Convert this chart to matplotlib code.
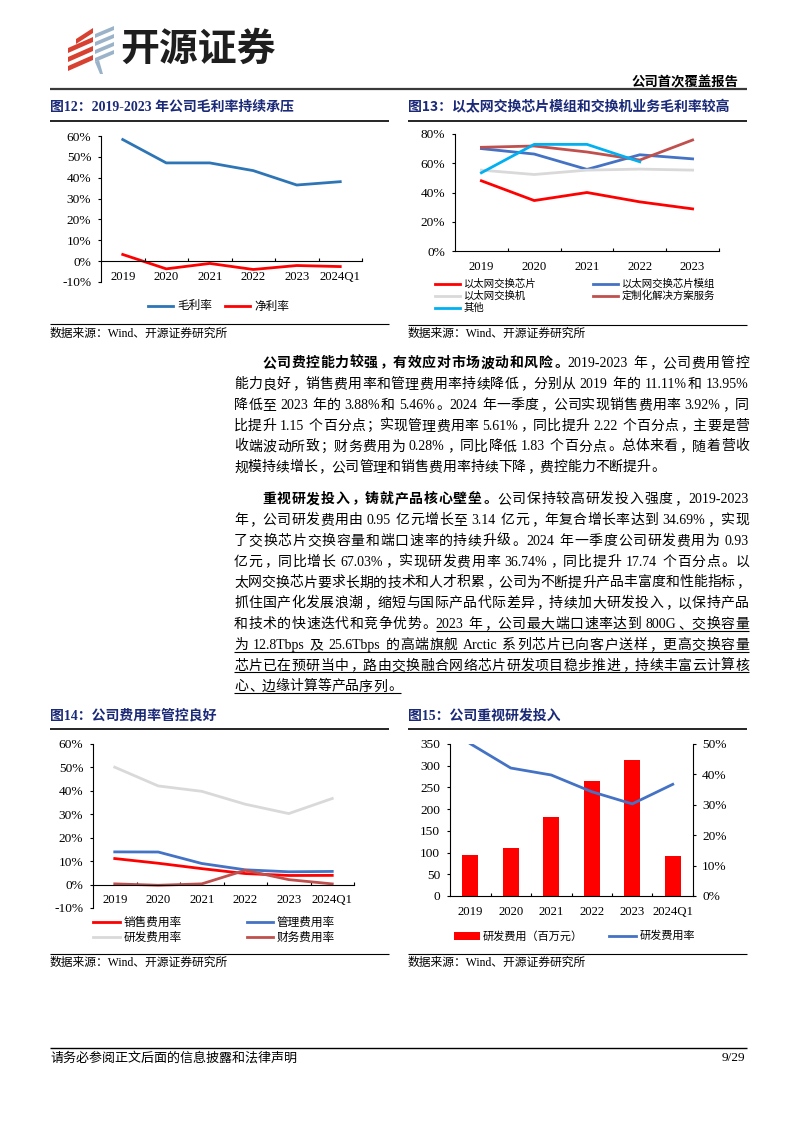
import re
import numpy as np
import matplotlib
matplotlib.use('Agg')
import matplotlib.pyplot as plt
from matplotlib.lines import Line2D
from matplotlib.patches import Rectangle, Polygon
from matplotlib.ticker import FuncFormatter

# ---- data ----
years6 = ['2019', '2020', '2021', '2022', '2023', '2024Q1']
years5 = ['2019', '2020', '2021', '2022', '2023']

gross_margin = [58.3, 47.1, 47.1, 43.4, 36.5, 38.1]
net_margin = [3.2, -3.7, -1.1, -4.0, -2.1, -2.6]

chip_margin = [48.0, 34.5, 40.0, 33.6, 28.8]
module_margin = [70.0, 66.3, 55.8, 65.8, 63.0]
switch_margin = [55.3, 52.3, 55.3, 56.0, 55.3]
custom_margin = [70.9, 71.8, 67.7, 62.2, 75.9]
other_margin = [53.5, 72.9, 72.9, 61.0, np.nan]

sales_rate = [11.11, 9.1, 6.8, 4.7, 3.88, 3.92]
admin_rate = [13.95, 13.9, 9.0, 6.3, 5.46, 5.61]
rd_rate = [50.1, 42.1, 39.8, 34.3, 30.3, 36.74]
fin_rate = [0.3, -0.3, 0.3, 6.1, 2.11, 0.28]

rd_expense = [95, 111, 181, 265, 314, 93]

W, H = 794, 1123
SERIF = ['Liberation Serif', 'Noto Sans CJK SC']
CJK = ['Noto Sans CJK SC', 'DejaVu Sans']
NAVY = '#1B2A78'
RED = '#FF0000'
BLUE = '#4472C4'
LBLUE = '#2E75B6'
GREY = '#D9D9D9'
BRICK = '#C0504D'
CYAN = '#00B0F0'

plt.rcParams['font.family'] = SERIF
plt.rcParams['axes.linewidth'] = 0.8

fig = plt.figure(figsize=(W / 100, H / 100), dpi=100)


def fx(x):
    return x / W


def fy(y):
    return 1 - y / H


def box(l, t, r, b):
    return [l / W, 1 - b / H, (r - l) / W, (b - t) / H]


def hline(x1, x2, y, lw=0.8, color='black'):
    fig.add_artist(Line2D([fx(x1), fx(x2)], [fy(y), fy(y)], color=color, lw=lw,
                          solid_capstyle='butt'))


def legend_key(x1, x2, y, line, label, fs):
    fig.add_artist(Line2D([fx(x1), fx(x2)], [fy(y), fy(y)], color=line.get_color(),
                          lw=line.get_linewidth()))
    fig.text(fx(x2 + 4), fy(y), label, fontsize=fs, family=CJK, va='center')


pct = FuncFormatter(lambda v, p: f'{v:.0f}%')


def style_axes(ax, labels, ymin, ymax, ystep, fmt=None):
    n = len(labels)
    ax.set_xlim(-0.5, n - 0.5)
    ax.set_ylim(ymin, ymax)
    ax.set_xticks(range(n))
    ax.set_xticklabels(labels)
    ax.set_xticks(np.arange(0.5, n, 1), minor=True)
    ax.tick_params(axis='x', which='major', length=0, pad=7, labelsize=9.2)
    ax.tick_params(axis='x', which='minor', direction='in', length=2.5, width=0.8)
    ax.set_yticks(np.arange(ymin, ymax + ystep / 2, ystep))
    if fmt is not None:
        ax.yaxis.set_major_formatter(fmt)
    ax.tick_params(axis='y', direction='out', length=2.5, width=0.8, pad=4.5, labelsize=9.6)
    ax.spines['top'].set_visible(False)
    ax.spines['right'].set_visible(False)
    ax.spines['bottom'].set_position(('data', 0))
    ax.patch.set_alpha(0)


# ---- header ----
red_logo = '#D8412F'
blue_logo = '#9BB3C9'
for yb in [44, 53, 62, 71]:
    x_left = 68 if yb > 44 else 76
    fig.add_artist(Polygon([(fx(x_left), fy(yb)), (fx(93), fy(yb - 11)), (fx(93), fy(yb - 16)),
                            (fx(x_left), fy(yb - 5))], closed=True, color=red_logo, lw=0))
for yb in [38, 46, 54, 62]:
    fig.add_artist(Polygon([(fx(95), fy(yb)), (fx(114), fy(yb - 8)), (fx(114), fy(yb - 12)),
                            (fx(95), fy(yb - 4))], closed=True, color=blue_logo, lw=0))
fig.add_artist(Polygon([(fx(95), fy(62)), (fx(100), fy(74)), (fx(103), fy(74)), (fx(99), fy(60))],
                       closed=True, color=blue_logo, lw=0))
fig.text(fx(120), fy(49), '开源证券', fontsize=28, family=CJK, fontweight='heavy',
         color='#1E1E1E', va='center', ha='left')
fig.text(fx(738), fy(82), '公司首次覆盖报告', fontsize=9.6, family=CJK, fontweight='bold',
         ha='right', va='center')
hline(50, 747, 88.5, lw=1.6, color='#3A3A3A')

# ---- figure titles ----
fig.text(fx(50), fy(107), '图12：2019-2023 年公司毛利率持续承压', fontsize=10, fontweight='bold',
         color=NAVY, va='center')
fig.text(fx(408), fy(107), '图13：以太网交换芯片模组和交换机业务毛利率较高', fontsize=10,
         fontweight='bold', color=NAVY, va='center', family=CJK)
hline(50, 389, 121, lw=1.2)
hline(408, 747, 121, lw=1.2)
fig.text(fx(50), fy(716), '图14：公司费用率管控良好', fontsize=10, fontweight='bold',
         color=NAVY, va='center')
fig.text(fx(408), fy(716), '图15：公司重视研发投入', fontsize=10, fontweight='bold',
         color=NAVY, va='center')
hline(50, 389, 728.5, lw=1.2)
hline(408, 747, 728.5, lw=1.2)

# ---- chart 12 ----
ax12 = fig.add_axes(box(101, 136, 362, 282))
l_gross, = ax12.plot(range(6), gross_margin, color=LBLUE, lw=2)
l_net, = ax12.plot(range(6), net_margin, color=RED, lw=2)
style_axes(ax12, years6, -10, 60, 10, pct)
legend_key(148, 173, 306, l_gross, '毛利率', 8.4)
legend_key(225, 250, 306, l_net, '净利率', 8.4)
hline(50, 389, 324)
fig.text(fx(50), fy(334), '数据来源：Wind、开源证券研究所', fontsize=8.5, va='center')

# ---- chart 13 ----
ax13 = fig.add_axes(box(455, 134, 719, 251))
c13 = []
for vals, col in [(chip_margin, RED), (module_margin, BLUE), (switch_margin, GREY),
                  (custom_margin, BRICK), (other_margin, CYAN)]:
    ln, = ax13.plot(range(5), vals, color=col, lw=2)
    c13.append(ln)
style_axes(ax13, years5, 0, 80, 20, pct)
legend_key(435, 460, 284, c13[0], '以太网交换芯片', 7.5)
legend_key(593, 618, 284, c13[1], '以太网交换芯片模组', 7.5)
legend_key(435, 460, 296, c13[2], '以太网交换机', 7.5)
legend_key(593, 618, 296, c13[3], '定制化解决方案服务', 7.5)
legend_key(435, 460, 308, c13[4], '其他', 7.5)
hline(408, 747, 325)
fig.text(fx(408), fy(334), '数据来源：Wind、开源证券研究所', fontsize=8.5, va='center')

# ---- chart 14 ----
ax14 = fig.add_axes(box(93, 744, 354, 908))
c14 = []
for vals, col in [(sales_rate, RED), (admin_rate, BLUE), (rd_rate, GREY), (fin_rate, BRICK)]:
    ln, = ax14.plot(range(6), vals, color=col, lw=2)
    c14.append(ln)
style_axes(ax14, years6, -10, 60, 10, pct)
legend_key(93, 120, 922, c14[0], '销售费用率', 8.4)
legend_key(247, 273, 922, c14[1], '管理费用率', 8.4)
legend_key(93, 120, 937, c14[2], '研发费用率', 8.4)
legend_key(247, 273, 937, c14[3], '财务费用率', 8.4)
hline(50, 389, 954)
fig.text(fx(50), fy(963), '数据来源：Wind、开源证券研究所', fontsize=8.5, va='center')

# ---- chart 15 ----
ax15 = fig.add_axes(box(450, 744, 693, 896))
bars = ax15.bar(range(6), rd_expense, width=0.4, color=RED)
style_axes(ax15, years6, 0, 350, 50)
ax15b = ax15.twinx()
l_rd, = ax15b.plot(range(6), rd_rate, color=BLUE, lw=2)
ax15b.set_ylim(0, 50)
ax15b.set_yticks(np.arange(0, 51, 10))
ax15b.yaxis.set_major_formatter(pct)
ax15b.tick_params(axis='y', direction='out', length=2.5, width=0.8, pad=4, labelsize=9.6)
for s in ['top', 'left', 'bottom']:
    ax15b.spines[s].set_visible(False)
fig.add_artist(Rectangle((fx(454), fy(939.5)), fx(480) - fx(454), fy(932) - fy(939.5),
                         color=RED, lw=0))
fig.text(fx(483), fy(936), '研发费用（百万元）', fontsize=8, family=CJK, va='center')
legend_key(609, 636, 936, l_rd, '研发费用率', 8)
hline(408, 747, 954)
fig.text(fx(408), fy(963), '数据来源：Wind、开源证券研究所', fontsize=8.5, va='center')

# ---- body text (justified) ----
para1 = [
    [('公司费控能力较强，有效应对市场波动和风险。', True, False), ('2019-2023 年，公司费用管控', False, False)],
    [('能力良好，销售费用率和管理费用率持续降低，分别从 2019 年的 11.11%和 13.95%', False, False)],
    [('降低至 2023 年的 3.88%和 5.46%。2024 年一季度，公司实现销售费用率 3.92%，同', False, False)],
    [('比提升 1.15 个百分点；实现管理费用率 5.61%，同比提升 2.22 个百分点，主要是营', False, False)],
    [('收端波动所致；财务费用为 0.28%，同比降低 1.83 个百分点。总体来看，随着营收', False, False)],
    [('规模持续增长，公司管理和销售费用率持续下降，费控能力不断提升。', False, False)],
]
para2 = [
    [('重视研发投入，铸就产品核心壁垒。', True, False), ('公司保持较高研发投入强度，2019-2023', False, False)],
    [('年，公司研发费用由 0.95 亿元增长至 3.14 亿元，年复合增长率达到 34.69%，实现', False, False)],
    [('了交换芯片交换容量和端口速率的持续升级。2024 年一季度公司研发费用为 0.93', False, False)],
    [('亿元，同比增长 67.03%，实现研发费用率 36.74%，同比提升 17.74 个百分点。以', False, False)],
    [('太网交换芯片要求长期的技术和人才积累，公司为不断提升产品丰富度和性能指标，', False, False)],
    [('抓住国产化发展浪潮，缩短与国际产品代际差异，持续加大研发投入，以保持产品', False, False)],
    [('和技术的快速迭代和竞争优势。', False, False), ('2023 年，公司最大端口速率达到 800G、交换容量', False, True)],
    [('为 12.8Tbps 及 25.6Tbps 的高端旗舰 Arctic 系列芯片已向客户送样，更高交换容量', False, True)],
    [('芯片已在预研当中，路由交换融合网络芯片研发项目稳步推进，持续丰富云计算核', False, True)],
    [('心、边缘计算等产品序列。', False, True)],
]

BODY_FS = 10
EM = BODY_FS * 100 / 72
renderer = fig.canvas.get_renderer()
LEFT_PUNCT = set('，。、；：）')
X0, X1, INDENT = 234, 749, 262


def is_ascii(t):
    return all(ord(c) < 128 for c in t)


def draw_line(segments, x0, x1, y, justify=True):
    toks = []
    for text, bold, under in segments:
        for t in re.findall(r'[!-~]+| |.', text):
            toks.append((t, bold, under))
    widths = []
    for t, bold, under in toks:
        if t == ' ':
            widths.append(EM * 0.25)
        elif is_ascii(t):
            tmp = fig.text(0, 0, t, fontsize=BODY_FS, family='Liberation Serif',
                           fontweight='bold' if bold else 'normal')
            widths.append(tmp.get_window_extent(renderer).width + 0.6)
            tmp.remove()
        else:
            widths.append(EM)
    gap = (x1 - x0 - sum(widths)) / (len(toks) - 1) if justify else 0
    base = y + 0.38 * EM
    x = x0
    ul = None
    for (t, bold, under), w in zip(toks, widths):
        wt = 'bold' if bold else 'normal'
        if t == ' ':
            pass
        elif is_ascii(t):
            fig.text(fx(x), fy(base), t, fontsize=BODY_FS, family='Liberation Serif',
                     fontweight=wt, ha='left', va='baseline')
        elif t in LEFT_PUNCT:
            fig.text(fx(x + 0.08 * EM), fy(base), t, fontsize=BODY_FS, family=CJK,
                     fontweight=wt, ha='left', va='baseline')
        elif t == '（':
            fig.text(fx(x + 0.92 * EM), fy(base), t, fontsize=BODY_FS, family=CJK,
                     fontweight=wt, ha='right', va='baseline')
        else:
            fig.text(fx(x + EM / 2), fy(base), t, fontsize=BODY_FS, family=CJK,
                     fontweight=wt, ha='center', va='baseline')
        if under:
            if ul is None:
                ul = [x, x + w]
            else:
                ul[1] = x + w
        x += w + gap
    if ul is not None:
        hline(ul[0], ul[1], y + 8, lw=0.8)


for i, segs in enumerate(para1):
    draw_line(segs, INDENT if i == 0 else X0, X1, 362 + 20.8 * i, justify=i < len(para1) - 1)
for i, segs in enumerate(para2):
    draw_line(segs, INDENT if i == 0 else X0, X1, 498 + 20.8 * i, justify=i < len(para2) - 1)

# ---- footer ----
hline(50, 747, 1048, lw=1.0)
fig.text(fx(50), fy(1058), '请务必参阅正文后面的信息披露和法律声明', fontsize=9.4, family=CJK,
         va='center')
fig.text(fx(745), fy(1058), '9/29', fontsize=9.6, ha='right', va='center')

fig.savefig('out.png', dpi=100)
